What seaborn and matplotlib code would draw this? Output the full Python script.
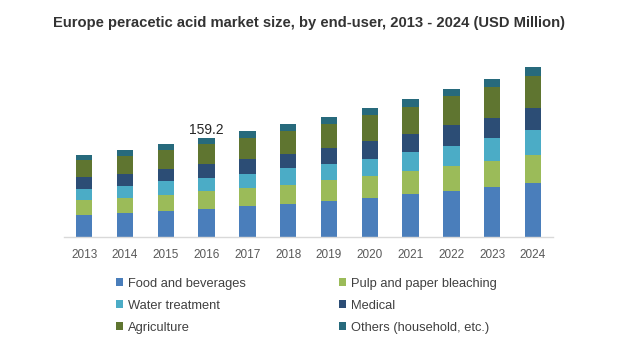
import matplotlib
matplotlib.use("Agg")
import matplotlib.pyplot as plt
import seaborn as sns
import numpy as np
import pandas as pd
from matplotlib.patches import Patch

years = ["2013", "2014", "2015", "2016", "2017", "2018", "2019", "2020", "2021", "2022", "2023", "2024"]
food = [35.4, 38.6, 42.4, 45.6, 49.3, 52.6, 57.9, 63.4, 68.7, 74.6, 79.9, 86.8]
pulp = [23.6, 24.1, 25.7, 27.9, 28.9, 30.6, 33.3, 34.3, 37.0, 39.1, 42.9, 44.5]
water = [17.7, 19.3, 21.4, 21.4, 23.0, 27.3, 26.2, 28.5, 31.0, 33.3, 37.0, 40.7]
medical = [19.8, 19.8, 19.8, 22.5, 23.6, 23.6, 26.2, 28.9, 28.9, 33.1, 32.2, 35.4]
agriculture = [27.9, 27.9, 30.0, 32.7, 34.9, 37.0, 39.1, 40.7, 44.1, 46.2, 49.9, 52.1]
others = [8.0, 10.2, 10.7, 9.1, 10.2, 11.3, 11.3, 12.4, 12.9, 11.7, 13.3, 15.0]

segments = ["Food and beverages", "Pulp and paper bleaching", "Water treatment",
            "Medical", "Agriculture", "Others (household, etc.)"]
values = [food, pulp, water, medical, agriculture, others]
colors = ["#4a7ebb", "#9bbb59", "#4bacc6", "#2c4d75", "#5f7530", "#276a7c"]

plt.rcParams['font.family'] = ['Liberation Sans', 'DejaVu Sans']

fig = plt.figure(figsize=(6.23, 3.52), dpi=100)
ax = fig.add_axes([63.8 / 623, 1 - 237 / 352, (553.4 - 63.8) / 623, (237 - 60) / 352])

cum = np.cumsum(np.array(values), axis=0)
for i in range(len(segments) - 1, -1, -1):
    df = pd.DataFrame({"year": years, "value": cum[i]})
    sns.barplot(data=df, x="year", y="value", color=colors[i], width=0.4,
                saturation=1, ax=ax, edgecolor="none", linewidth=0)

ax.set_ylim(0, 285)
ax.set_xlim(-0.5, len(years) - 0.5)
ax.set_xlabel("")
ax.set_ylabel("")
ax.set_yticks([])
for s in ["top", "right", "left"]:
    ax.spines[s].set_visible(False)
ax.spines["bottom"].set_color("#d9d9d9")
ax.spines["bottom"].set_linewidth(1)
ax.tick_params(axis="x", length=0, labelsize=8.5, colors="#595959", pad=9)

total_2016 = cum[-1][3]
ax.text(3, total_2016 + 2, f"{total_2016:.1f}", ha="center", va="bottom", fontsize=10, color="#262626")

fig.text(309 / 623, 1 - 23 / 352, "Europe peracetic acid market size, by end-user, 2013 - 2024 (USD Million)",
         ha="center", va="center", fontsize=10.6, fontweight="bold", color="#333333")

order = [0, 2, 4, 1, 3, 5]
handles = [Patch(facecolor=colors[i], edgecolor="none", label=segments[i]) for i in order]
leg = fig.legend(handles=handles, ncol=2, loc="upper left",
                 bbox_to_anchor=(104 / 623, 1 - 266 / 352), frameon=False,
                 fontsize=9.3, handlelength=0.55, handleheight=0.55, handletextpad=0.4,
                 columnspacing=7.2, labelspacing=0.78, labelcolor="#404040")

fig.savefig("out.png", dpi=100, facecolor="white")
